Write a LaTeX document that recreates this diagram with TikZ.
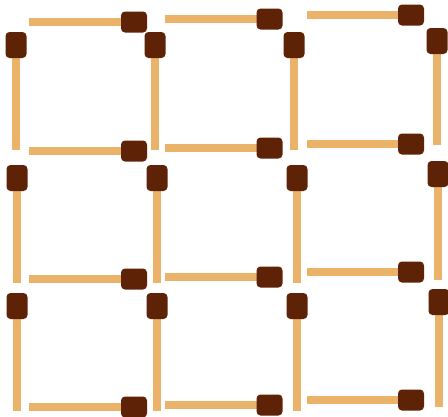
\documentclass[tikz,border=0pt]{standalone}
\definecolor{stickc}{HTML}{EBB36A}
\definecolor{headc}{HTML}{5E2207}
\tikzset{
  stickpart/.style={fill=stickc, draw=none},
  headpart/.style={fill=headc, draw=none, rounded corners=4pt},
}
\begin{document}
\begin{tikzpicture}[x=1pt,y=-1pt]
\useasboundingbox (0,0) rectangle (448,416);
% horizontal matches: stick start / head left / centre y
\foreach \xa/\xh/\yc in {29/121/22, 165/256.5/19, 307/398/15,
                         29/121/151, 165/256.5/148, 307/398/144,
                         29/121/279, 165/256.5/277, 307/398/272,
                         29/121/407, 165/256.5/405, 307/398/400}{
  \fill[stickpart] (\xa,\yc-4) rectangle (\xh+13,\yc+4);
  \fill[headpart] (\xh,\yc-10.5) rectangle (\xh+26,\yc+10.5);
}
% vertical matches: centre x / head top / stick bottom
\foreach \xc/\yt/\yb in {16/32/150, 155/32/150, 294/32/150, 437/28/145,
                         17/165/283, 157/165/283, 297/165/283, 438/161/280,
                         17/293/411, 157/293/411, 297/293/411, 439/289/407}{
  \fill[stickpart] (\xc-4,\yt+13) rectangle (\xc+4,\yb);
  \fill[headpart] (\xc-10.5,\yt) rectangle (\xc+10.5,\yt+26);
}
\end{tikzpicture}
\end{document}
